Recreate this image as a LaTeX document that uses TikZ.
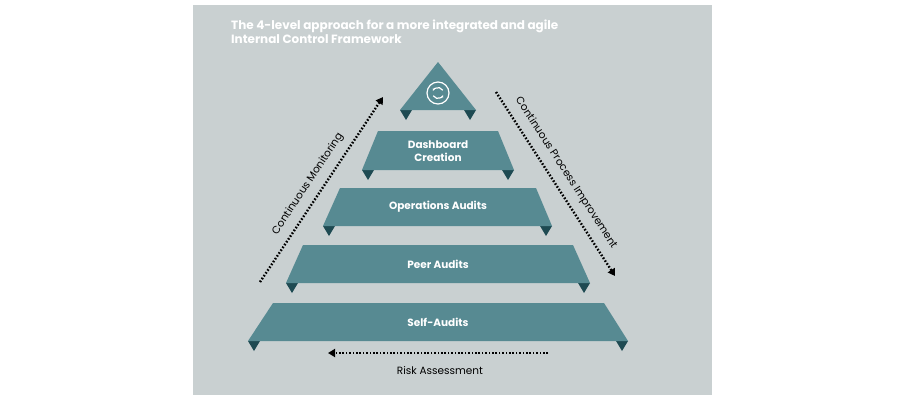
\documentclass[tikz,border=0pt]{standalone}
\usepackage{fontspec}
\setmainfont{Poppins}
\usetikzlibrary{arrows.meta}
\definecolor{bg}{HTML}{C9D0D1}
\definecolor{teal}{HTML}{578A92}
\definecolor{dk}{HTML}{1E4A52}
\begin{document}
\begin{tikzpicture}[x=1pt,y=-1pt,
  lvl/.style={fill=teal},
  tip/.style={fill=dk},
  lbl/.style={text=white,font=\bfseries\fontsize{10.5}{12.5}\selectfont,align=center},
  dots/.style={line width=2.4pt,dash pattern=on 1.6pt off 1.8pt,-{Triangle[length=7pt,width=8pt]}},
  alab/.style={font=\fontsize{10.5}{12}\selectfont,text=black}]
\useasboundingbox (0,0) rectangle (900,400);
\fill[white] (0,0) rectangle (900,400);
\fill[bg] (193,5) rectangle (712,395);
\node[anchor=north west,text=white,font=\bfseries\fontsize{12}{14}\selectfont,align=left,inner sep=0] (title) at (231,20) {The 4-level approach for a more integrated and agile\\Internal Control Framework};
% tips
\foreach \a/\b/\y in {400/476/110,362/514/170,323/552/226,286/590/283,248/628/341}{
  \fill[tip] (\a,\y) -- (\a+12,\y) -- (\a+6,\y+10) -- cycle;
  \fill[tip] (\b,\y) -- (\b-12,\y) -- (\b-6,\y+10) -- cycle;}
\fill[lvl] (438,62) -- (476,110) -- (400,110) -- cycle;
\fill[lvl] (378,131) -- (498,131) -- (514,170) -- (362,170) -- cycle;
\fill[lvl] (340,188) -- (536,188) -- (552,226) -- (323,226) -- cycle;
\fill[lvl] (303,245) -- (573,245) -- (590,283) -- (286,283) -- cycle;
\fill[lvl] (273,303) -- (604,303) -- (628,341) -- (248,341) -- cycle;
\node[lbl] (dash) at (438,151) {Dashboard\\Creation};
\node[lbl] (ops) at (438,207) {Operations Audits};
\node[lbl] (peer) at (438,264) {Peer Audits};
\node[lbl] (self) at (438,322) {Self-Audits};
% icon
\node[circle,draw=white,line width=1.2pt,minimum size=22pt,inner sep=0] (icon) at (438,93) {};
\draw[white,line width=1.2pt,-{Stealth[length=3pt]}] (icon.center) ++(150:5.5) arc[start angle=150,end angle=20,radius=5.5];
\draw[white,line width=1.2pt,-{Stealth[length=3pt]}] (icon.center) ++(-30:5.5) arc[start angle=-30,end angle=-160,radius=5.5];
% arrows
\coordinate (l1) at (260,282); \coordinate (l2) at (383,97);
\coordinate (r1) at (496,92); \coordinate (r2) at (615,276);
\coordinate (b1) at (548,353); \coordinate (b2) at (328,353);
\draw[dots] (l1) -- (l2);
\draw[dots] (r1) -- (r2);
\draw[dots] (b1) -- (b2);
\node[alab,rotate=56.4] (cm) at (308,184) {Continuous Monitoring};
\node[alab,rotate=-57] (cpi) at (566,173) {Continuous Process Improvement};
\node[alab] (ra) at (440,371) {Risk Assessment};
\end{tikzpicture}
\end{document}
